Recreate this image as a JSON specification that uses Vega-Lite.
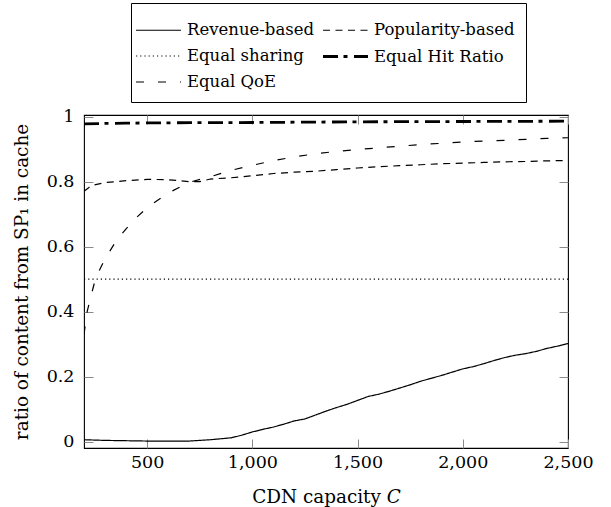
{
  "$schema": "https://vega.github.io/schema/vega-lite/v6.json",
  "width": 484,
  "height": 333,
  "autosize": {"type": "none"},
  "padding": {"left": 84, "top": 115, "right": 43, "bottom": 59},
  "config": {
    "font": "DejaVu Serif",
    "view": {"stroke": "black", "strokeWidth": 1.1},
    "axis": {
      "domain": false,
      "grid": false,
      "tickColor": "#8a8a8a",
      "tickSize": 9,
      "offset": -9,
      "tickWidth": 1,
      "labelFont": "DejaVu Serif",
      "labelFontSize": 17.5,
      "labelColor": "black",
      "titleFont": "DejaVu Serif",
      "titleFontSize": 18.4,
      "titleFontWeight": "normal",
      "titleColor": "black",
      "labelFlush": false,
      "labelOverlap": false
    }
  },
  "data": {
    "values": [
      {"series": "Revenue-based", "C": 200, "r": 0.006},
      {"series": "Revenue-based", "C": 300, "r": 0.004},
      {"series": "Revenue-based", "C": 400, "r": 0.003},
      {"series": "Revenue-based", "C": 500, "r": 0.002},
      {"series": "Revenue-based", "C": 600, "r": 0.002},
      {"series": "Revenue-based", "C": 700, "r": 0.002},
      {"series": "Revenue-based", "C": 800, "r": 0.006},
      {"series": "Revenue-based", "C": 900, "r": 0.012},
      {"series": "Revenue-based", "C": 950, "r": 0.02},
      {"series": "Revenue-based", "C": 1000, "r": 0.03},
      {"series": "Revenue-based", "C": 1050, "r": 0.038},
      {"series": "Revenue-based", "C": 1100, "r": 0.045},
      {"series": "Revenue-based", "C": 1150, "r": 0.054},
      {"series": "Revenue-based", "C": 1200, "r": 0.064},
      {"series": "Revenue-based", "C": 1250, "r": 0.07},
      {"series": "Revenue-based", "C": 1300, "r": 0.082},
      {"series": "Revenue-based", "C": 1350, "r": 0.094},
      {"series": "Revenue-based", "C": 1400, "r": 0.105},
      {"series": "Revenue-based", "C": 1450, "r": 0.115},
      {"series": "Revenue-based", "C": 1500, "r": 0.127},
      {"series": "Revenue-based", "C": 1550, "r": 0.139},
      {"series": "Revenue-based", "C": 1600, "r": 0.146},
      {"series": "Revenue-based", "C": 1650, "r": 0.155},
      {"series": "Revenue-based", "C": 1700, "r": 0.165},
      {"series": "Revenue-based", "C": 1750, "r": 0.175},
      {"series": "Revenue-based", "C": 1800, "r": 0.186},
      {"series": "Revenue-based", "C": 1850, "r": 0.195},
      {"series": "Revenue-based", "C": 1900, "r": 0.204},
      {"series": "Revenue-based", "C": 1950, "r": 0.214},
      {"series": "Revenue-based", "C": 2000, "r": 0.224},
      {"series": "Revenue-based", "C": 2050, "r": 0.231},
      {"series": "Revenue-based", "C": 2100, "r": 0.24},
      {"series": "Revenue-based", "C": 2150, "r": 0.25},
      {"series": "Revenue-based", "C": 2200, "r": 0.259},
      {"series": "Revenue-based", "C": 2250, "r": 0.266},
      {"series": "Revenue-based", "C": 2300, "r": 0.271},
      {"series": "Revenue-based", "C": 2350, "r": 0.278},
      {"series": "Revenue-based", "C": 2400, "r": 0.287},
      {"series": "Revenue-based", "C": 2450, "r": 0.294},
      {"series": "Revenue-based", "C": 2500, "r": 0.302},
      {"series": "Popularity-based", "C": 200, "r": 0.77},
      {"series": "Popularity-based", "C": 225, "r": 0.783},
      {"series": "Popularity-based", "C": 250, "r": 0.79},
      {"series": "Popularity-based", "C": 300, "r": 0.797},
      {"series": "Popularity-based", "C": 400, "r": 0.803},
      {"series": "Popularity-based", "C": 500, "r": 0.807},
      {"series": "Popularity-based", "C": 600, "r": 0.806},
      {"series": "Popularity-based", "C": 700, "r": 0.8},
      {"series": "Popularity-based", "C": 750, "r": 0.8},
      {"series": "Popularity-based", "C": 800, "r": 0.808},
      {"series": "Popularity-based", "C": 900, "r": 0.812},
      {"series": "Popularity-based", "C": 1000, "r": 0.818},
      {"series": "Popularity-based", "C": 1100, "r": 0.825},
      {"series": "Popularity-based", "C": 1200, "r": 0.829},
      {"series": "Popularity-based", "C": 1300, "r": 0.832},
      {"series": "Popularity-based", "C": 1400, "r": 0.837},
      {"series": "Popularity-based", "C": 1500, "r": 0.842},
      {"series": "Popularity-based", "C": 1600, "r": 0.846},
      {"series": "Popularity-based", "C": 1700, "r": 0.849},
      {"series": "Popularity-based", "C": 1800, "r": 0.852},
      {"series": "Popularity-based", "C": 1900, "r": 0.855},
      {"series": "Popularity-based", "C": 2000, "r": 0.857},
      {"series": "Popularity-based", "C": 2100, "r": 0.859},
      {"series": "Popularity-based", "C": 2200, "r": 0.861},
      {"series": "Popularity-based", "C": 2300, "r": 0.862},
      {"series": "Popularity-based", "C": 2400, "r": 0.864},
      {"series": "Popularity-based", "C": 2500, "r": 0.865},
      {"series": "Equal sharing", "C": 200, "r": 0.5},
      {"series": "Equal sharing", "C": 2500, "r": 0.5},
      {"series": "Equal Hit Ratio", "C": 200, "r": 0.978},
      {"series": "Equal Hit Ratio", "C": 300, "r": 0.979},
      {"series": "Equal Hit Ratio", "C": 400, "r": 0.98},
      {"series": "Equal Hit Ratio", "C": 600, "r": 0.981},
      {"series": "Equal Hit Ratio", "C": 1000, "r": 0.982},
      {"series": "Equal Hit Ratio", "C": 1500, "r": 0.984},
      {"series": "Equal Hit Ratio", "C": 2000, "r": 0.985},
      {"series": "Equal Hit Ratio", "C": 2500, "r": 0.986},
      {"series": "Equal QoE", "C": 200, "r": 0.33},
      {"series": "Equal QoE", "C": 215, "r": 0.4},
      {"series": "Equal QoE", "C": 230, "r": 0.44},
      {"series": "Equal QoE", "C": 250, "r": 0.49},
      {"series": "Equal QoE", "C": 275, "r": 0.53},
      {"series": "Equal QoE", "C": 300, "r": 0.562},
      {"series": "Equal QoE", "C": 350, "r": 0.615},
      {"series": "Equal QoE", "C": 400, "r": 0.655},
      {"series": "Equal QoE", "C": 450, "r": 0.69},
      {"series": "Equal QoE", "C": 500, "r": 0.72},
      {"series": "Equal QoE", "C": 600, "r": 0.765},
      {"series": "Equal QoE", "C": 700, "r": 0.798},
      {"series": "Equal QoE", "C": 800, "r": 0.815},
      {"series": "Equal QoE", "C": 900, "r": 0.835},
      {"series": "Equal QoE", "C": 1000, "r": 0.85},
      {"series": "Equal QoE", "C": 1100, "r": 0.865},
      {"series": "Equal QoE", "C": 1200, "r": 0.876},
      {"series": "Equal QoE", "C": 1300, "r": 0.886},
      {"series": "Equal QoE", "C": 1400, "r": 0.893},
      {"series": "Equal QoE", "C": 1500, "r": 0.899},
      {"series": "Equal QoE", "C": 1600, "r": 0.904},
      {"series": "Equal QoE", "C": 1700, "r": 0.909},
      {"series": "Equal QoE", "C": 1800, "r": 0.914},
      {"series": "Equal QoE", "C": 1900, "r": 0.918},
      {"series": "Equal QoE", "C": 2000, "r": 0.922},
      {"series": "Equal QoE", "C": 2100, "r": 0.925},
      {"series": "Equal QoE", "C": 2200, "r": 0.927},
      {"series": "Equal QoE", "C": 2300, "r": 0.93},
      {"series": "Equal QoE", "C": 2400, "r": 0.933},
      {"series": "Equal QoE", "C": 2500, "r": 0.935}
    ]
  },
  "layer": [
    {
      "mark": {"type": "line", "color": "black", "strokeCap": "butt", "clip": true},
      "encoding": {
        "x": {
          "field": "C", "type": "quantitative",
          "scale": {"domain": [200, 2500], "nice": false, "zero": false},
          "axis": {"orient": "bottom", "title": "CDN capacity 𝐶", "values": [500, 1000, 1500, 2000, 2500], "labelExpr": "format(datum.value, ',')", "labelPadding": 5, "titlePadding": 17}
        },
        "y": {
          "field": "r", "type": "quantitative",
          "scale": {"domain": [-0.0194, 1.005], "nice": false, "zero": false},
          "axis": {"orient": "left", "title": "ratio of content from SP₁ in cache", "values": [0, 0.2, 0.4, 0.6, 0.8, 1], "labelExpr": "format(datum.value, '~g')", "labelPadding": 10, "titlePadding": 15}
        },
        "strokeDash": {
          "field": "series", "type": "nominal",
          "scale": {
            "domain": ["Revenue-based", "Equal sharing", "Equal QoE", "Popularity-based", "Equal Hit Ratio"],
            "range": [[1, 0], [1.2, 3], [8, 14], [7, 5.5], [15, 5.5, 4, 6.5]]
          },
          "legend": {
            "title": null,
            "orient": "none",
            "legendX": 47,
            "legendY": -112,
            "columns": 2,
            "strokeColor": "black",
            "fillColor": "white",
            "padding": 11,
            "labelFont": "DejaVu Serif",
            "labelFontSize": 16.5,
            "labelColor": "black",
            "symbolType": "M-1.5,0H1.5",
            "symbolSize": 900,
            "symbolStrokeColor": "black",
            "labelOffset": 12,
            "columnPadding": 2,
            "rowPadding": 1
          }
        },
        "strokeWidth": {
          "field": "series", "type": "nominal",
          "scale": {
            "type": "ordinal",
            "domain": ["Revenue-based", "Equal sharing", "Equal QoE", "Popularity-based", "Equal Hit Ratio"],
            "range": [1.2, 1.2, 1.2, 1.2, 2.8]
          }
        }
      }
    },
    {
      "mark": {"type": "line", "opacity": 0},
      "encoding": {
        "x": {"field": "C", "type": "quantitative", "axis": {"orient": "top", "labels": false, "title": null, "values": [500, 1000, 1500, 2000, 2500]}},
        "y": {"field": "r", "type": "quantitative", "axis": {"orient": "right", "labels": false, "title": null, "values": [0, 0.2, 0.4, 0.6, 0.8, 1]}},
        "detail": {"field": "series"}
      }
    }
  ],
  "resolve": {"axis": {"x": "independent", "y": "independent"}}
}
